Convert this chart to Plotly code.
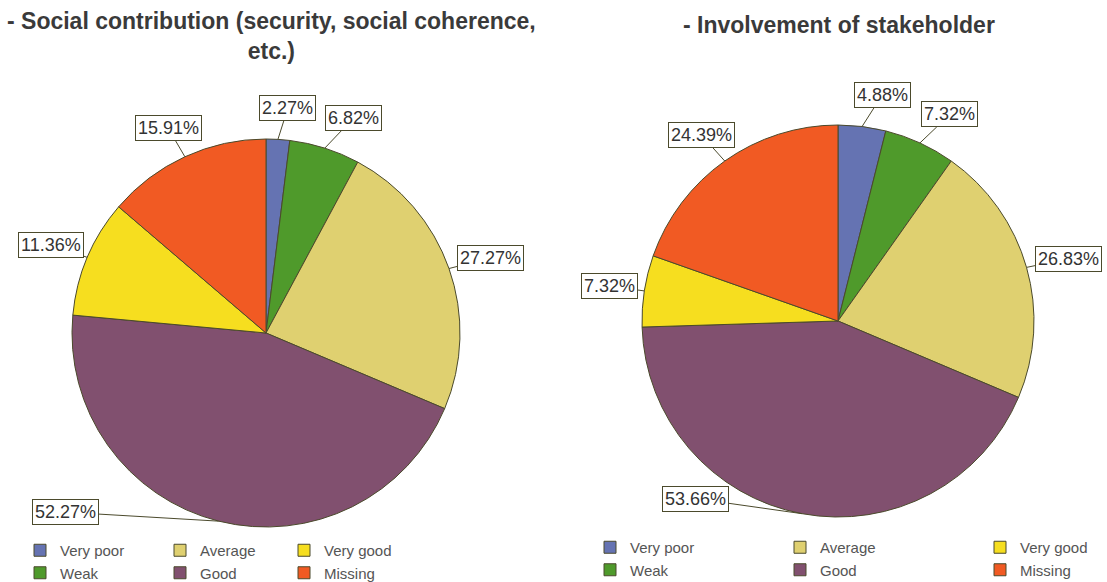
import math
import plotly.graph_objects as go

W, H = 1107, 582

categories = ["Very poor", "Weak", "Average", "Good", "Very good", "Missing"]
social_values = [2.27, 6.82, 27.27, 52.27, 11.36, 15.91]
stakeholder_values = [4.88, 7.32, 26.83, 53.66, 7.32, 24.39]
colors = ["#6573b2", "#4f9a2b", "#dfd070", "#81506f", "#f6de1f", "#f15a23"]

titles = [
    "- Social contribution (security, social coherence,<br>etc.)",
    "- Involvement of stakeholder",
]

# legend grid: columns hold (Very poor, Weak), (Average, Good), (Very good, Missing)
legend_columns = [[0, 1], [2, 3], [4, 5]]

EDGE = "#4b4a2c"
TEXT = "#333333"
FONT = "Liberation Sans, Arial"

# pixel geometry for each pie and its decorations
panels = [
    dict(values=social_values, title=titles[0], cx=266, cy=333, r=194,
         title_x=271, title_y=6, legend_x=[20, 160, 284], legend_y=534,
         bottom_shift=(-153, -9)),
    dict(values=stakeholder_values, title=titles[1], cx=838, cy=321, r=196,
         title_x=839, title_y=10, legend_x=[590, 780, 980], legend_y=531,
         bottom_shift=(-106, -15)),
]


def px(x):
    return x / W


def py(y):
    return 1 - y / H


fig = go.Figure()
annotations = []
legend_layouts = {}
legend_count = 0

for p in panels:
    cx, cy, r = p["cx"], p["cy"], p["r"]
    fig.add_trace(go.Pie(
        labels=categories,
        values=p["values"],
        sort=False,
        direction="clockwise",
        rotation=0,
        textinfo="none",
        hoverinfo="label+value",
        marker=dict(colors=colors, line=dict(color=EDGE, width=1)),
        domain=dict(x=[px(cx - r), px(cx + r)], y=[py(cy + r), py(cy - r)]),
        showlegend=False,
    ))

    # boxed value labels with leader lines to the slice edge
    total = sum(p["values"])
    cum = 0.0
    for v in p["values"]:
        mid = (cum + v / 2) / total
        cum += v
        th = 2 * math.pi * mid
        s, c = math.sin(th), math.cos(th)
        ax0, ay0 = cx + r * s, cy - r * c
        text = f"{v:.2f}%"
        w, h = 10 * len(text) + 4, 27
        if abs(th - math.pi) < 0.4:
            dx, dy = p["bottom_shift"]
        else:
            if s > 0:
                dx = s * 12 + (w / 2 - 2) * min(1.0, s * 6)
            else:
                dx = s * (8 + w / 2)
            dy = -c * (18 + h / 2)
        annotations.append(dict(
            x=px(ax0), y=py(ay0), xref="paper", yref="paper",
            ax=dx, ay=dy, axref="pixel", ayref="pixel",
            text=text, showarrow=True, arrowhead=0, arrowwidth=1,
            arrowcolor=EDGE, standoff=0, startstandoff=0,
            font=dict(family=FONT, size=18, color=TEXT),
            bgcolor="white", bordercolor=EDGE, borderwidth=1, borderpad=2,
        ))

    annotations.append(dict(
        x=px(p["title_x"]), y=py(p["title_y"]), xref="paper", yref="paper",
        xanchor="center", yanchor="top", showarrow=False, text=p["title"],
        font=dict(family=FONT, size=23, color="#3a3a3a", weight="bold"),
    ))

    # one small vertical legend per column
    for col, idxs in enumerate(legend_columns):
        legend_count += 1
        lname = "legend" if legend_count == 1 else f"legend{legend_count}"
        for i in idxs:
            fig.add_trace(go.Scatter(
                x=[None], y=[None], mode="markers", name=categories[i],
                marker=dict(symbol="square", size=12, color=colors[i],
                            line=dict(color=EDGE, width=1)),
                legend=lname, showlegend=True, hoverinfo="skip",
            ))
        legend_layouts[lname] = dict(
            x=px(p["legend_x"][col]), y=py(p["legend_y"]),
            xanchor="left", yanchor="top", orientation="v",
            bgcolor="rgba(0,0,0,0)", tracegroupgap=0, itemclick=False,
            font=dict(family=FONT, size=15, color="#555555"),
        )

fig.update_layout(
    width=W, height=H,
    margin=dict(l=0, r=0, t=0, b=0, autoexpand=False),
    paper_bgcolor="white", plot_bgcolor="white",
    xaxis=dict(visible=False), yaxis=dict(visible=False),
    annotations=annotations,
    **legend_layouts,
)

fig.write_html("out.html")
